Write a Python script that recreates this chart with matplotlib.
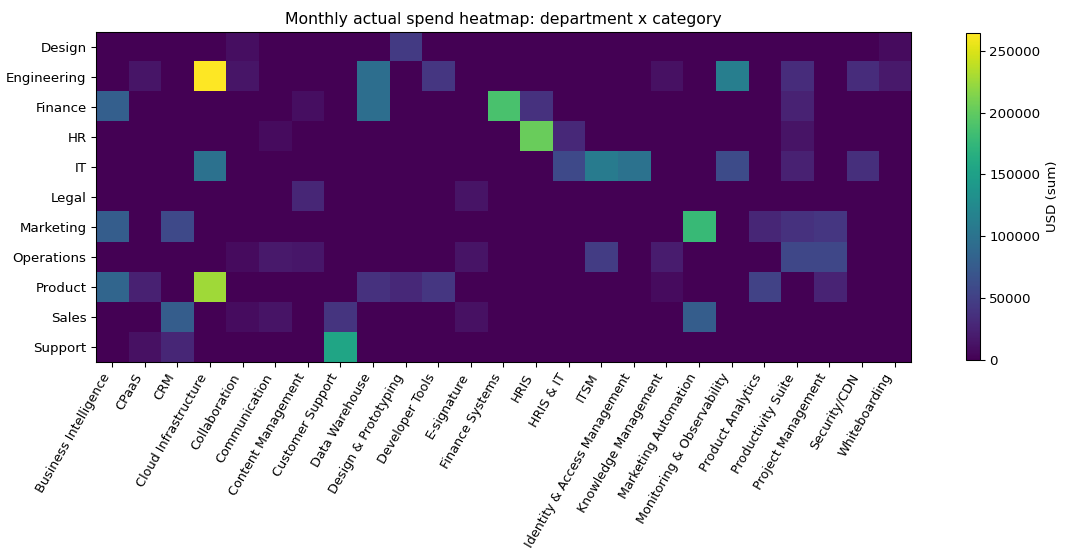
import numpy as np
import matplotlib
matplotlib.use("Agg")
import matplotlib.pyplot as plt

departments = ["Design", "Engineering", "Finance", "HR", "IT", "Legal", "Marketing",
               "Operations", "Product", "Sales", "Support"]
categories = ["Business Intelligence", "CPaaS", "CRM", "Cloud Infrastructure", "Collaboration",
              "Communication", "Content Management", "Customer Support", "Data Warehouse",
              "Design & Prototyping", "Developer Tools", "E-signature", "Finance Systems", "HRIS",
              "HRIS & IT", "ITSM", "Identity & Access Management", "Knowledge Management",
              "Marketing Automation", "Monitoring & Observability", "Product Analytics",
              "Productivity Suite", "Project Management", "Security/CDN", "Whiteboarding"]

# spend per department (rows) and category (columns), USD
design      = [0, 0, 0, 0, 10000, 0, 0, 0, 0, 45000, 0, 0, 0, 0, 0, 0, 0, 0, 0, 0, 0, 0, 0, 0, 8000]
engineering = [0, 15000, 0, 264000, 15000, 0, 0, 0, 95000, 0, 42000, 0, 0, 0, 0, 0, 0, 12000, 0, 113000, 0, 33000, 0, 33000, 18000]
finance     = [80000, 0, 0, 0, 0, 0, 10000, 0, 95000, 0, 0, 0, 188000, 38000, 0, 0, 0, 0, 0, 0, 0, 25000, 0, 0, 0]
hr          = [0, 0, 0, 0, 0, 8000, 0, 0, 0, 0, 0, 0, 0, 204000, 30000, 0, 0, 0, 0, 0, 0, 14000, 0, 0, 0]
it          = [0, 0, 0, 98000, 0, 0, 0, 0, 0, 0, 0, 0, 0, 0, 58000, 110000, 100000, 0, 0, 60000, 0, 24000, 0, 36000, 0]
legal       = [0, 0, 0, 0, 0, 0, 28000, 0, 0, 0, 0, 14000, 0, 0, 0, 0, 0, 0, 0, 0, 0, 0, 0, 0, 0]
marketing   = [78000, 0, 58000, 0, 0, 0, 0, 0, 0, 0, 0, 0, 0, 0, 0, 0, 0, 0, 178000, 0, 28000, 38000, 42000, 0, 0]
operations  = [0, 0, 0, 0, 8000, 18000, 16000, 0, 0, 0, 0, 14000, 0, 0, 0, 47000, 0, 20000, 0, 0, 0, 56000, 56000, 0, 0]
product     = [86000, 24000, 0, 226000, 0, 0, 0, 0, 38000, 30000, 42000, 0, 0, 0, 0, 0, 0, 8000, 0, 0, 52000, 0, 26000, 0, 0]
sales       = [0, 0, 78000, 0, 9000, 14000, 0, 40000, 0, 0, 0, 12000, 0, 0, 0, 0, 0, 0, 78000, 0, 0, 0, 0, 0, 0]
support     = [0, 12000, 28000, 0, 0, 0, 0, 155000, 0, 0, 0, 0, 0, 0, 0, 0, 0, 0, 0, 0, 0, 0, 0, 0, 0]

matrix = np.array([design, engineering, finance, hr, it, legal, marketing,
                   operations, product, sales, support], dtype=float)

fig = plt.figure(figsize=(1065 / 96, 555 / 96), dpi=96)
ax = fig.add_axes([0.0901, 0.3477, 0.7653, 0.5946])
im = ax.imshow(matrix, aspect="auto", cmap="viridis", interpolation="nearest")
ax.set_xticks(range(len(categories)))
ax.set_xticklabels(categories, rotation=60, ha="right", fontsize=9.6)
ax.set_yticks(range(len(departments)))
ax.set_yticklabels(departments, fontsize=10)
ax.set_title("Monthly actual spend heatmap: department x category", fontsize=11.8)

cax = fig.add_axes([0.907, 0.351, 0.0131, 0.589])
cb = fig.colorbar(im, cax=cax)
cb.set_label("USD (sum)", fontsize=10)
cb.ax.tick_params(labelsize=10)

fig.savefig("out.png", dpi=96)
